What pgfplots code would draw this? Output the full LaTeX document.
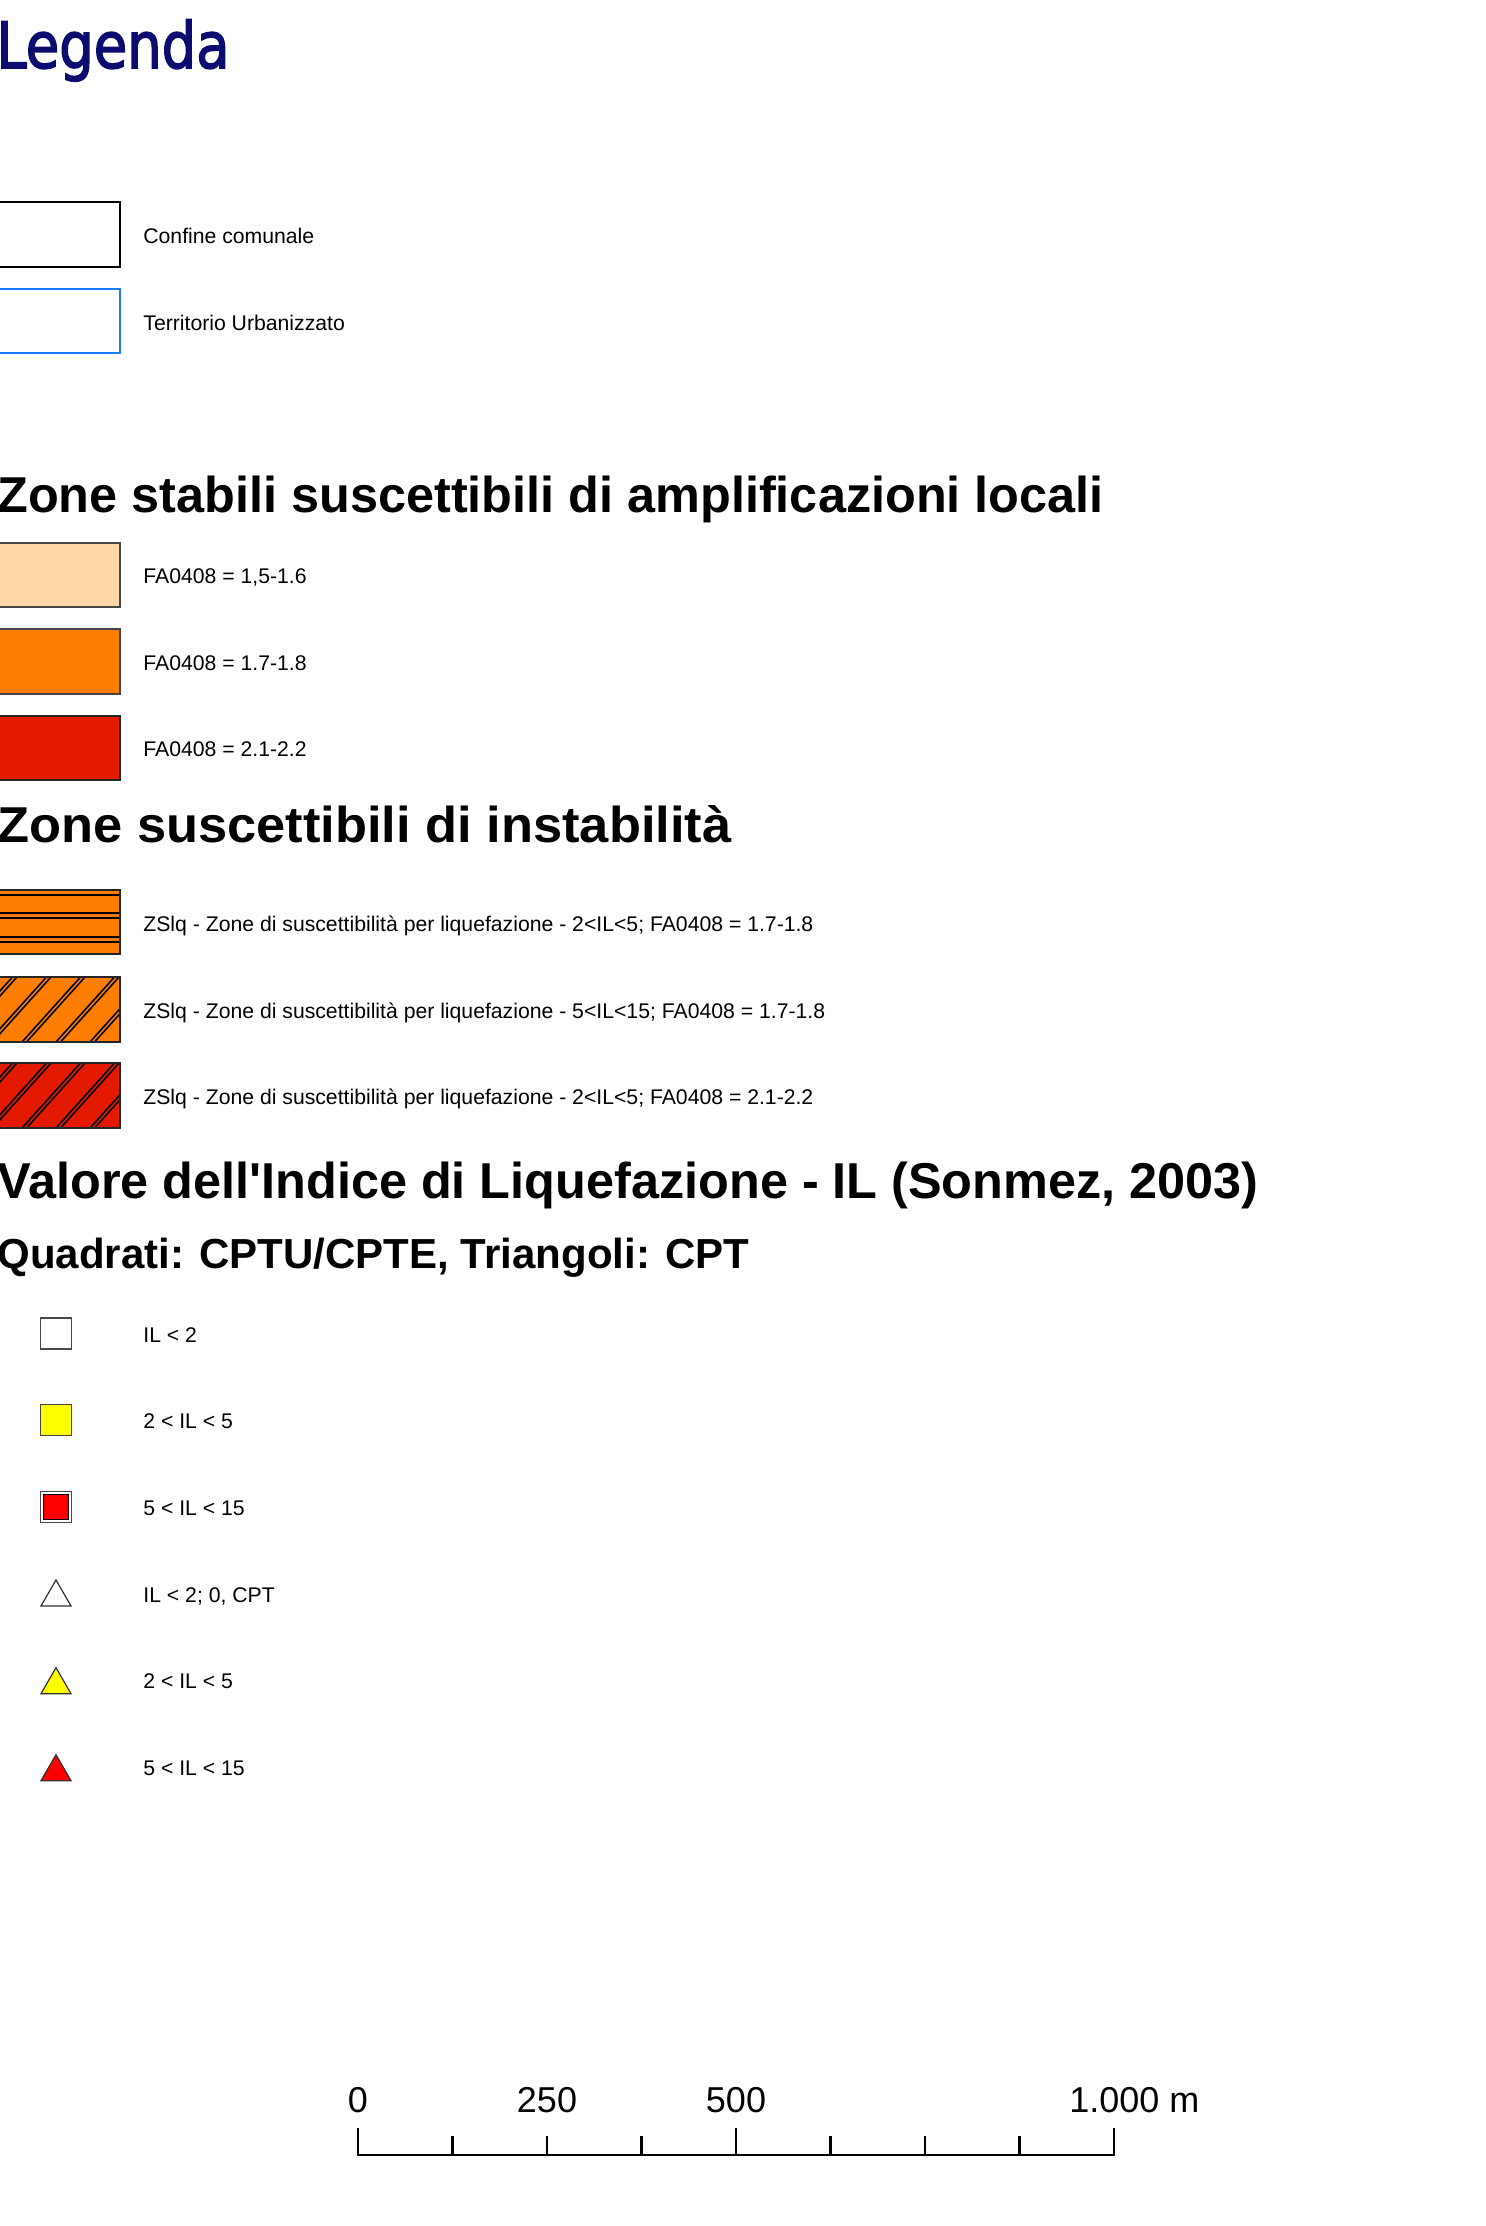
\documentclass[border=0pt]{standalone}
\usepackage{pgfplots}
\pgfplotsset{compat=1.18}
\usepackage{fontspec}
\usepackage{graphicx}
\setmainfont{Liberation Sans}
\newfontfamily\arial{Liberation Sans}
\newfontfamily\titlefont{DejaVu Sans}[FakeBold=2.5]
\definecolor{navy}{RGB}{12,12,112}
\definecolor{peach}{RGB}{255,214,166}
\definecolor{orng}{RGB}{255,125,0}
\definecolor{rred}{RGB}{228,26,0}
\definecolor{ublue}{RGB}{25,125,250}
\definecolor{bord}{RGB}{70,70,70}
\definecolor{ylw}{RGB}{255,255,0}
\definecolor{mred}{RGB}{255,0,0}
\tikzset{
  lbl/.style={anchor=base west, inner sep=0pt, font=\arial\fontsize{10.6}{12}\selectfont},
  mlbl/.style={anchor=base west, inner sep=0pt, font=\arial\fontsize{10.6}{12}\selectfont},
  hd/.style={anchor=base west, inner sep=0pt, font=\arial\bfseries\fontsize{25.2}{30}\selectfont},
  sc/.style={anchor=base, inner sep=0pt, font=\arial\fontsize{18}{21}\selectfont},
}
\begin{document}
\begin{tikzpicture}
\begin{axis}[
  width=742.5pt, height=1113pt, scale only axis,
  xmin=0, xmax=1485, ymin=0, ymax=2226, y dir=reverse,
  hide axis, clip=false, unbounded coords=jump,
]
\coordinate (BL) at (axis cs:0,2226);
\coordinate (TR) at (axis cs:1485,0);

% Title
\node[anchor=base west, inner sep=0pt, text=navy] at (axis cs:-4,68)
  {\titlefont\fontsize{32}{38}\selectfont\scalebox{0.85}[1]{Legenda}};

% Boundaries
\addplot[draw=black, line width=1pt, fill=white] coordinates {(-10,202) (120,202) (120,267) (-10,267)} -- cycle;
\node[lbl] at (axis cs:143,243) {Confine comunale};
\addplot[draw=ublue, line width=1pt, fill=white] coordinates {(-10,289) (120,289) (120,353) (-10,353)} -- cycle;
\node[lbl] at (axis cs:143,330) {Territorio Urbanizzato};

% Zone stabili
\node[hd] at (axis cs:-3,512) {Zone stabili suscettibili di amplificazioni locali};
\addplot[draw=bord, line width=0.6pt, fill=peach] coordinates {(-10,543) (120,543) (120,607) (-10,607)} -- cycle;
\node[lbl] at (axis cs:143,583.5) {FA0408 = 1,5-1.6};
\addplot[draw=bord, line width=0.6pt, fill=orng] coordinates {(-10,629) (120,629) (120,694) (-10,694)} -- cycle;
\node[lbl] at (axis cs:143,670) {FA0408 = 1.7-1.8};
\addplot[draw=black!85, line width=0.6pt, fill=rred] coordinates {(-10,716) (120,716) (120,780) (-10,780)} -- cycle;
\node[lbl] at (axis cs:143,756.5) {FA0408 = 2.1-2.2};

% Zone instabili
\node[hd] at (axis cs:-3,842) {\scalebox{1.04}[1]{Zone suscettibili di instabilità}};
% ZS1
\addplot[draw=none, fill=orng] coordinates {(-10,890) (120,890) (120,954) (-10,954)} -- cycle;
\addplot[black, line width=0.8pt] coordinates {
 (-10,895) (120,895) (nan,nan)
 (-10,913) (120,913) (nan,nan)
 (-10,918) (120,918) (nan,nan)
 (-10,937) (120,937) (nan,nan)
 (-10,942) (120,942)};
\addplot[draw=black!85, line width=0.6pt] coordinates {(-10,890) (120,890) (120,954) (-10,954)} -- cycle;
\node[lbl] at (axis cs:143,931) {ZSlq - Zone di suscettibilità per liquefazione - 2<IL<5; FA0408 = 1.7-1.8};
% ZS2
\addplot[draw=none, fill=orng] coordinates {(-10,977) (120,977) (120,1042) (-10,1042)} -- cycle;
\addplot[black, line width=0.8pt] coordinates {
 (-10,1002) (12.5,977) (nan,nan)
 (-10,1007) (17,977) (nan,nan)
 (-10,1039.8) (46.5,977) (nan,nan)
 (-7.5,1042) (51,977) (nan,nan)
 (22,1042) (80.5,977) (nan,nan)
 (26.5,1042) (85,977) (nan,nan)
 (56,1042) (114.5,977) (nan,nan)
 (60.5,1042) (119,977) (nan,nan)
 (90,1042) (120,1008.7) (nan,nan)
 (94.5,1042) (120,1013.7)};
\addplot[draw=black!85, line width=0.6pt] coordinates {(-10,977) (120,977) (120,1042) (-10,1042)} -- cycle;
\node[lbl] at (axis cs:143,1018) {ZSlq - Zone di suscettibilità per liquefazione - 5<IL<15; FA0408 = 1.7-1.8};
% ZS3
\addplot[draw=none, fill=rred] coordinates {(-10,1063) (120,1063) (120,1128) (-10,1128)} -- cycle;
\addplot[black, line width=0.8pt] coordinates {
 (-10,1088) (12.5,1063) (nan,nan)
 (-10,1093) (17,1063) (nan,nan)
 (-10,1125.8) (46.5,1063) (nan,nan)
 (-7.5,1128) (51,1063) (nan,nan)
 (22,1128) (80.5,1063) (nan,nan)
 (26.5,1128) (85,1063) (nan,nan)
 (56,1128) (114.5,1063) (nan,nan)
 (60.5,1128) (119,1063) (nan,nan)
 (90,1128) (120,1094.7) (nan,nan)
 (94.5,1128) (120,1099.7)};
\addplot[draw=black!85, line width=0.6pt] coordinates {(-10,1063) (120,1063) (120,1128) (-10,1128)} -- cycle;
\node[lbl] at (axis cs:143,1104) {ZSlq - Zone di suscettibilità per liquefazione - 2<IL<5; FA0408 = 2.1-2.2};

% Indice di liquefazione
\node[hd] at (axis cs:-3,1198) {Valore dell{\char"0027}Indice di Liquefazione - IL (Sonmez, 2003)};
\node[anchor=base west, inner sep=0pt, font=\arial\bfseries\fontsize{21}{25}\selectfont] at (axis cs:-3,1268) {Quadrati: CPTU/CPTE, Triangoli: CPT};

\addplot[only marks, mark=square*, mark size=7.75pt, mark options={fill=white, draw=bord, line width=0.6pt}] coordinates {(56,1333.5)};
\node[mlbl] at (axis cs:143,1342) {IL < 2};
\addplot[only marks, mark=square*, mark size=7.75pt, mark options={fill=ylw, draw=bord, line width=0.6pt}] coordinates {(56,1420)};
\node[mlbl] at (axis cs:143,1428) {2 < IL < 5};
\addplot[only marks, mark=square*, mark size=7.75pt, mark options={fill=white, draw=bord, line width=0.6pt}] coordinates {(56,1507)};
\addplot[only marks, mark=square*, mark size=6.4pt, mark options={fill=mred, draw=none}] coordinates {(56,1507)};
\node[mlbl] at (axis cs:143,1515) {5 < IL < 15};
\addplot[only marks, mark=triangle*, mark size=8.67pt, mark options={fill=white, draw=black!80, line width=0.6pt}] coordinates {(56,1597.3)};
\node[mlbl] at (axis cs:143,1602) {IL < 2; 0, CPT};
\addplot[only marks, mark=triangle*, mark size=8.67pt, mark options={fill=ylw, draw=black!80, line width=0.6pt}] coordinates {(56,1685)};
\node[mlbl] at (axis cs:143,1688) {2 < IL < 5};
\addplot[only marks, mark=triangle*, mark size=8.67pt, mark options={fill=mred, draw=black!80, line width=0.6pt}] coordinates {(56,1772)};
\node[mlbl] at (axis cs:143,1775) {5 < IL < 15};

% Scale bar
\addplot[black, line width=1.4pt, line join=miter] coordinates {(358,2128) (358,2155) (1114,2155) (1114,2128)};
\addplot[black, line width=1.1pt] coordinates {
 (736,2128) (736,2155) (nan,nan)
 (452.5,2136) (452.5,2155) (nan,nan)
 (547,2136) (547,2155) (nan,nan)
 (641.5,2136) (641.5,2155) (nan,nan)
 (830.5,2136) (830.5,2155) (nan,nan)
 (925,2136) (925,2155) (nan,nan)
 (1019.5,2136) (1019.5,2155)};
\node[sc] at (axis cs:358,2112) {0};
\node[sc] at (axis cs:547,2112) {250};
\node[sc] at (axis cs:736,2112) {500};
\node[sc, anchor=base west] at (axis cs:1069,2112) {1.000 m};
\end{axis}
\pgfresetboundingbox
\path[use as bounding box] (BL) rectangle (TR);
\end{tikzpicture}
\end{document}
